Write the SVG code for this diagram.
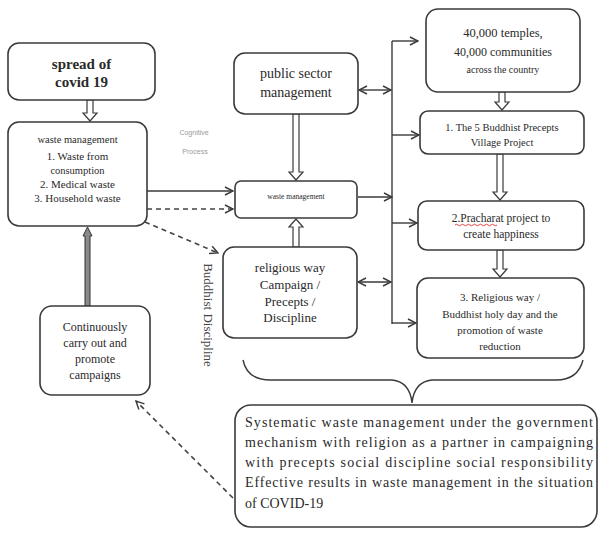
<svg xmlns="http://www.w3.org/2000/svg" width="600" height="533" viewBox="0 0 600 533">
<style>
.box{fill:#fff;stroke:#3a3a3a;stroke-width:1.6}
.ln{fill:none;stroke:#3a3a3a;stroke-width:1.4}
.dash{fill:none;stroke:#444;stroke-width:1.6;stroke-dasharray:5,4}
.hol{fill:#fff;stroke:#3a3a3a;stroke-width:1.2}
</style>
<defs>
<marker id="ah" viewBox="0 0 10 10" refX="9" refY="5" markerWidth="10" markerHeight="10" markerUnits="userSpaceOnUse" orient="auto-start-reverse">
<polyline points="1,1 9,5 1,9" fill="none" stroke="#3a3a3a" stroke-width="1.4"/>
</marker>
</defs>
<rect width="600" height="533" fill="#fff"/>

<g id="connectors">
<polygon class="hol" points="87,100 93,100 93,113 97,113 90,121 83,113 87,113"/>
<polygon class="hol" points="293,114 299,114 299,172 303,172 296,180 289,172 293,172"/>
<polygon class="hol" points="293,247 299,247 299,227 303,227 296,219 289,227 293,227"/>
<polygon class="hol" points="499,92 505,92 505,102 509,102 502,110 495,102 499,102"/>
<polygon class="hol" points="497,154 503,154 503,192 507,192 500,200 493,192 497,192"/>
<polygon class="hol" points="497,250 503,250 503,269 507,269 500,277 493,269 497,269"/>
<polygon points="85,306 90,306 90,236 92,236 87.5,227 83,236 85,236" fill="#8a8a8a" stroke="#333" stroke-width="1"/>
<line class="ln" x1="147" y1="191" x2="233" y2="191" marker-end="url(#ah)"/>
<line class="dash" x1="147" y1="209" x2="233" y2="209" marker-end="url(#ah)"/>
<line class="dash" x1="145" y1="222" x2="218" y2="253" marker-end="url(#ah)"/>
<line class="ln" x1="392" y1="41" x2="392" y2="324"/>
<line class="ln" x1="392" y1="41" x2="418" y2="41" marker-end="url(#ah)"/>
<line class="ln" x1="392" y1="135" x2="419" y2="135" marker-end="url(#ah)"/>
<line class="ln" x1="392" y1="223" x2="417" y2="223" marker-end="url(#ah)"/>
<line class="ln" x1="392" y1="323" x2="416" y2="323" marker-end="url(#ah)"/>
<line class="ln" x1="358" y1="197" x2="392" y2="197" marker-end="url(#ah)"/>
<line class="ln" x1="359" y1="90" x2="391" y2="90" marker-start="url(#ah)" marker-end="url(#ah)"/>
<line class="ln" x1="358" y1="282" x2="391" y2="282" marker-start="url(#ah)" marker-end="url(#ah)" stroke-width="2"/>
<path class="ln" d="M243,360 Q247,380 270,380 L392,380 Q410,382 412,403 Q414,382 432,380 L556,380 Q578,380 583,360" stroke="#777"/>
<line class="dash" x1="233" y1="498" x2="136" y2="401" marker-end="url(#ah)"/>
</g>

<g id="spread" fill="#2a2a2a">
<rect class="box" x="8" y="43" width="147" height="57" rx="11"/>
<text x="81.5" y="69" font-size="15" font-weight="bold" font-family="Liberation Serif, serif" text-anchor="middle">spread of</text>
<text x="81.5" y="87" font-size="15" font-weight="bold" font-family="Liberation Serif, serif" text-anchor="middle">covid 19</text>
</g>

<g id="waste-left" fill="#2a2a2a">
<rect class="box" x="8" y="122" width="139" height="104" rx="11"/>
<text x="77.5" y="143" font-size="10.5" font-family="Liberation Serif, serif" text-anchor="middle">waste management</text>
<text x="77.5" y="160" font-size="11" font-family="Liberation Serif, serif" text-anchor="middle">1. Waste from</text>
<text x="77.5" y="174" font-size="10.5" font-family="Liberation Serif, serif" text-anchor="middle">consumption</text>
<text x="77.5" y="188" font-size="11" font-family="Liberation Serif, serif" text-anchor="middle">2. Medical waste</text>
<text x="77.5" y="202" font-size="11" font-family="Liberation Serif, serif" text-anchor="middle">3. Household waste</text>
</g>

<g id="cognitive" fill="#999">
<text x="194" y="135" font-size="7" font-family="Liberation Sans, sans-serif" text-anchor="middle">Cognitive</text>
<text x="195" y="154" font-size="7" font-family="Liberation Sans, sans-serif" text-anchor="middle">Process</text>
</g>

<g id="public" fill="#2a2a2a">
<rect class="box" x="234" y="53" width="124" height="61" rx="11"/>
<text x="296" y="78" font-size="14" font-family="Liberation Serif, serif" text-anchor="middle">public sector</text>
<text x="296" y="97" font-size="14" font-family="Liberation Serif, serif" text-anchor="middle">management</text>
</g>

<g id="waste-center" fill="#2a2a2a">
<rect class="box" x="235" y="181" width="122" height="37" rx="6"/>
<text x="296" y="199" font-size="7.5" font-family="Liberation Serif, serif" text-anchor="middle">waste management</text>
</g>

<g id="religious" fill="#2a2a2a">
<rect class="box" x="223" y="247" width="134" height="91" rx="11"/>
<text x="290" y="272" font-size="13" font-family="Liberation Serif, serif" text-anchor="middle">religious way</text>
<text x="290" y="289" font-size="13" font-family="Liberation Serif, serif" text-anchor="middle">Campaign /</text>
<text x="290" y="306" font-size="13" font-family="Liberation Serif, serif" text-anchor="middle">Precepts /</text>
<text x="290" y="322" font-size="13" font-family="Liberation Serif, serif" text-anchor="middle">Discipline</text>
</g>

<g id="buddhist-discipline" fill="#444">
<text x="208" y="315" font-size="13" transform="rotate(90 208 315)" dy="4" font-family="Liberation Serif, serif" text-anchor="middle">Buddhist Discipline</text>
</g>

<g id="temples" fill="#2a2a2a">
<rect class="box" x="426" y="9" width="154" height="83" rx="12"/>
<text x="503" y="37" font-size="12.5" font-family="Liberation Serif, serif" text-anchor="middle">40,000 temples,</text>
<text x="503" y="56" font-size="12" font-family="Liberation Serif, serif" text-anchor="middle">40,000 communities</text>
<text x="503" y="73" font-size="10" font-family="Liberation Serif, serif" text-anchor="middle">across the country</text>
</g>

<g id="precepts-village" fill="#2a2a2a">
<rect class="box" x="420" y="111" width="164" height="43" rx="8"/>
<text x="502" y="131" font-size="10.5" font-family="Liberation Serif, serif" text-anchor="middle">1. The 5 Buddhist Precepts</text>
<text x="502" y="146" font-size="10.5" font-family="Liberation Serif, serif" text-anchor="middle">Village Project</text>
</g>

<g id="pracharat" fill="#2a2a2a">
<rect class="box" x="418" y="201" width="166" height="49" rx="9"/>
<text x="501" y="222" font-size="11.5" font-family="Liberation Serif, serif" text-anchor="middle">2.Pracharat project to</text>
<text x="501" y="238" font-size="11.5" font-family="Liberation Serif, serif" text-anchor="middle">create happiness</text>
<path d="M455,225 q1.5,-1.5 3,0 t3,0 t3,0 t3,0 t3,0 t3,0 t3,0 t3,0 t3,0 t3,0 t3,0 t3,0 t3,0 t3,0" fill="none" stroke="#d33" stroke-width="0.9"/>
</g>

<g id="religious-way" fill="#2a2a2a">
<rect class="box" x="417" y="278" width="167" height="80" rx="11"/>
<text x="500" y="301" font-size="11" font-family="Liberation Serif, serif" text-anchor="middle">3. Religious way /</text>
<text x="500" y="318" font-size="11" font-family="Liberation Serif, serif" text-anchor="middle">Buddhist holy day and the</text>
<text x="500" y="334" font-size="11" font-family="Liberation Serif, serif" text-anchor="middle">promotion of waste</text>
<text x="500" y="350" font-size="11" font-family="Liberation Serif, serif" text-anchor="middle">reduction</text>
</g>

<g id="continuously" fill="#2a2a2a">
<rect class="box" x="40" y="306" width="110" height="89" rx="12"/>
<text x="95" y="331" font-size="12" font-family="Liberation Serif, serif" text-anchor="middle">Continuously</text>
<text x="95" y="347" font-size="12" font-family="Liberation Serif, serif" text-anchor="middle">carry out and</text>
<text x="95" y="363" font-size="12" font-family="Liberation Serif, serif" text-anchor="middle">promote</text>
<text x="95" y="379" font-size="12" font-family="Liberation Serif, serif" text-anchor="middle">campaigns</text>
</g>

<g id="summary" fill="#2a2a2a">
<rect class="box" x="235" y="405" width="362" height="122" rx="16"/>
<text x="245" y="427" font-size="14" textLength="348" lengthAdjust="spacing" font-family="Liberation Serif, serif">Systematic waste management under the government</text>
<text x="245" y="447" font-size="14" textLength="348" lengthAdjust="spacing" font-family="Liberation Serif, serif">mechanism with religion as a partner in campaigning</text>
<text x="245" y="467" font-size="14" textLength="348" lengthAdjust="spacing" font-family="Liberation Serif, serif">with precepts social discipline social responsibility</text>
<text x="245" y="487" font-size="14" textLength="348" lengthAdjust="spacing" font-family="Liberation Serif, serif">Effective results in waste management in the situation</text>
<text x="245" y="508" font-size="14" font-family="Liberation Serif, serif">of COVID-19</text>
</g>
</svg>
